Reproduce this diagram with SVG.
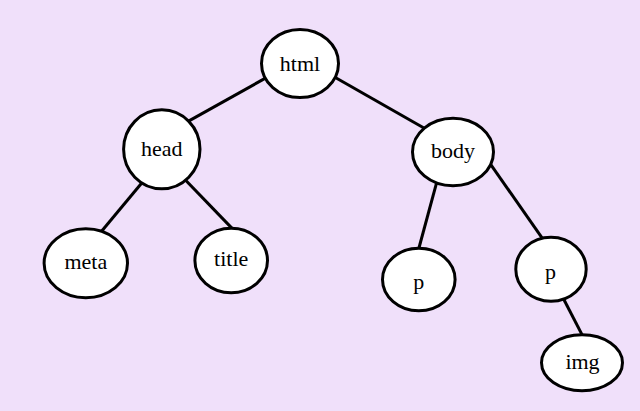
<svg xmlns="http://www.w3.org/2000/svg" width="640" height="411" viewBox="0 0 640 411">
<style>
.edge{stroke:#000;stroke-width:3;fill:none;stroke-linecap:butt}
.node ellipse{fill:#fff;stroke:#000;stroke-width:3}
.node text{fill:#000;text-anchor:middle}
</style>
<rect width="640" height="411" fill="#f0e0fa"/>
<g id="connectors">
<line class="edge" x1="267.7" y1="76.9" x2="186.3" y2="122.4"/>
<line class="edge" x1="334" y1="76.8" x2="427" y2="129.8"/>
<line class="edge" x1="143.2" y1="181.2" x2="99.5" y2="233.8"/>
<line class="edge" x1="184.2" y1="178.7" x2="234.5" y2="230.9"/>
<line class="edge" x1="437.3" y1="180.2" x2="418" y2="251.5"/>
<line class="edge" x1="489.4" y1="162.6" x2="542.9" y2="239.1"/>
<line class="edge" x1="562.7" y1="297.3" x2="583.3" y2="337.1"/>
</g>
<g font-family="'Liberation Serif', 'DejaVu Serif', serif" font-size="22">
<g id="html" class="node"><ellipse cx="300" cy="63.5" rx="38.5" ry="34"/><text x="300" y="70.5">html</text></g>
<g id="head" class="node"><ellipse cx="161.8" cy="149.3" rx="38.2" ry="39.5"/><text x="161.8" y="155.5">head</text></g>
<g id="body" class="node"><ellipse cx="453" cy="152" rx="40.5" ry="33.8"/><text x="453" y="158">body</text></g>
<g id="meta" class="node"><ellipse cx="85.8" cy="263.3" rx="41.7" ry="34.5"/><text x="85.8" y="268.8">meta</text></g>
<g id="title" class="node"><ellipse cx="231.2" cy="260.5" rx="36.3" ry="32.3"/><text x="231.2" y="266">title</text></g>
<g id="p1" class="node"><ellipse cx="418.8" cy="279.5" rx="36.3" ry="31.3"/><text x="418.8" y="289">p</text></g>
<g id="p2" class="node"><ellipse cx="551" cy="269.2" rx="35.2" ry="32"/><text x="550.5" y="278.5">p</text></g>
<g id="img" class="node"><ellipse cx="582" cy="362.8" rx="40.5" ry="28"/><text x="582.5" y="369">img</text></g>
</g>
</svg>
